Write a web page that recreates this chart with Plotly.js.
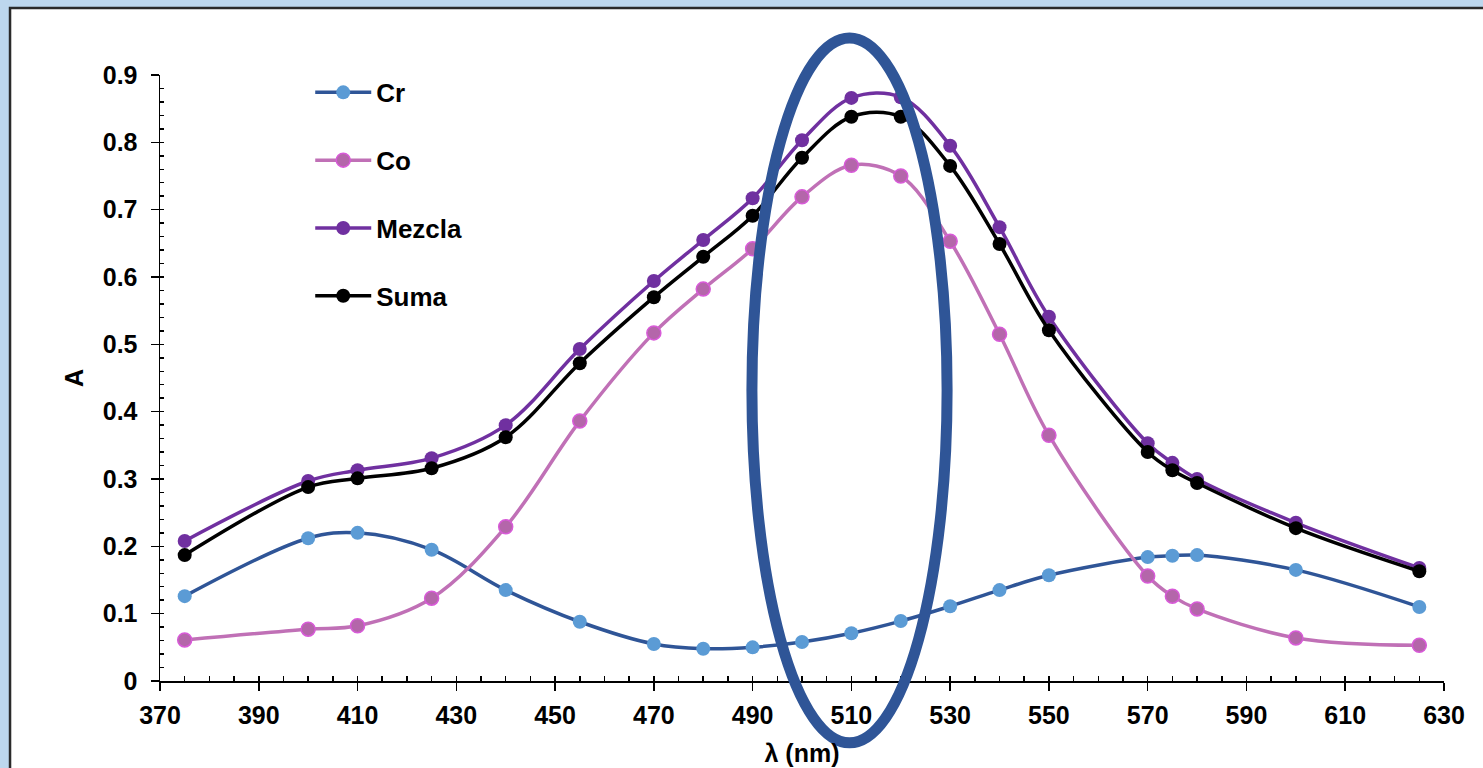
<!DOCTYPE html>
<html>
<head>
<meta charset="utf-8">
<script src="https://cdn.plot.ly/plotly-3.0.1.min.js"></script>
<style>
html,body{margin:0;padding:0;overflow:hidden;background:#bdd7ee;}
#plot{width:1483px;height:768px;}
</style>
</head>
<body>
<div id="plot"></div>
<script>
const wavelength = [375, 400, 410, 425, 440, 455, 470, 480, 490, 500, 510, 520, 530, 540, 550, 570, 575, 580, 600, 625];
const cr     = [0.126, 0.212, 0.220, 0.195, 0.135, 0.088, 0.055, 0.048, 0.050, 0.058, 0.071, 0.089, 0.111, 0.135, 0.157, 0.184, 0.186, 0.187, 0.165, 0.110];
const co     = [0.061, 0.077, 0.082, 0.123, 0.229, 0.386, 0.517, 0.582, 0.642, 0.719, 0.766, 0.750, 0.653, 0.515, 0.365, 0.156, 0.126, 0.107, 0.064, 0.053];
const mezcla = [0.208, 0.297, 0.313, 0.331, 0.380, 0.493, 0.594, 0.655, 0.717, 0.803, 0.866, 0.867, 0.795, 0.674, 0.541, 0.353, 0.324, 0.300, 0.235, 0.168];
const suma   = [0.187, 0.288, 0.301, 0.316, 0.362, 0.472, 0.570, 0.630, 0.691, 0.777, 0.838, 0.838, 0.765, 0.649, 0.521, 0.340, 0.313, 0.294, 0.227, 0.163];
const seriesNames = ['Cr', 'Co', 'Mezcla', 'Suma'];

const FONT = '"Liberation Sans", Arial, sans-serif';

function tr(y, name, lineColor, markerColor, markerLine) {
  return {
    x: wavelength, y: y, name: name, type: 'scatter', mode: 'lines+markers',
    legendgroup: name,
    line: {color: lineColor, width: 3.5, shape: 'spline', smoothing: 1},
    marker: {color: markerColor, size: 14, line: {color: markerLine, width: markerLine === markerColor ? 0 : 1.5}}
  };
}

const data = [
  tr(cr, seriesNames[0], '#2f5597', '#5b9bd5', '#5b9bd5'),
  tr(co, seriesNames[1], '#c070b6', '#b466aa', '#d85ad8'),
  tr(mezcla, seriesNames[2], '#7030a0', '#7030a0', '#7030a0'),
  tr(suma, seriesNames[3], '#000000', '#000000', '#000000'),
  {x: [370, 630], y: [0, 0.9], xaxis: 'x2', yaxis: 'y2', mode: 'markers', marker: {opacity: 0}, showlegend: false, hoverinfo: 'skip', type: 'scatter'}
];

const layout = {
  width: 1483, height: 768,
  margin: {l: 160, r: 39, t: 75, b: 87},
  paper_bgcolor: '#bdd7ee',
  plot_bgcolor: '#ffffff',
  font: {family: FONT, size: 26, color: '#000'},
  showlegend: true,
  legend: {
    x: 0.117, y: 1.01, xanchor: 'left', yanchor: 'top',
    bgcolor: 'rgba(0,0,0,0)',
    font: {family: FONT, size: 26, color: '#000', weight: 'bold'},
    itemwidth: 56,
    traceorder: 'grouped', tracegroupgap: 31
  },
  xaxis: {
    range: [370, 630], dtick: 20, tick0: 370,
    showgrid: false, zeroline: false,
    showline: true, linecolor: '#000', linewidth: 1.5,
    ticks: 'outside', ticklen: 8, tickwidth: 1.5, tickcolor: '#000',
    ticklabelstandoff: 3,
    tickfont: {family: FONT, size: 25, weight: 'bold'},
    title: {text: 'λ (nm)', font: {family: FONT, size: 25, weight: 'bold'}, standoff: 17}
  },
  yaxis: {
    range: [0, 0.9], dtick: 0.1,
    showgrid: false, zeroline: false,
    showline: true, linecolor: '#000', linewidth: 1.5,
    ticks: 'outside', ticklen: 8, tickwidth: 1.5, tickcolor: '#000',
    ticklabelstandoff: 8,
    tickformat: '.1~f',
    tickfont: {family: FONT, size: 25, weight: 'bold'},
    title: {text: 'A', font: {family: FONT, size: 25, weight: 'bold'}, standoff: 12}
  },
  xaxis2: {
    overlaying: 'x', range: [370, 630], dtick: 5, tick0: 370, side: 'bottom',
    showgrid: false, zeroline: false, showline: false, showticklabels: false,
    ticks: 'inside', ticklen: 5, tickwidth: 1.5, tickcolor: '#000'
  },
  yaxis2: {
    overlaying: 'y', range: [0, 0.9], dtick: 0.02, side: 'left',
    showgrid: false, zeroline: false, showline: false, showticklabels: false,
    ticks: 'inside', ticklen: 4, tickwidth: 1.5, tickcolor: '#000'
  },
  shapes: [
    {type: 'rect', xref: 'paper', yref: 'paper', x0: -0.1168, x1: 1.04, y0: -0.16, y1: 1.1106,
     fillcolor: '#ffffff', line: {color: '#2a2a2a', width: 2.5}, layer: 'below'},
    {type: 'circle', xref: 'paper', yref: 'paper', x0: 0.461, x1: 0.613, y0: -0.102, y1: 1.061,
     line: {color: '#2f5597', width: 11}, fillcolor: 'rgba(0,0,0,0)', layer: 'above'}
  ]
};

Plotly.newPlot('plot', data, layout, {displayModeBar: false, staticPlot: true});
</script>
</body>
</html>
